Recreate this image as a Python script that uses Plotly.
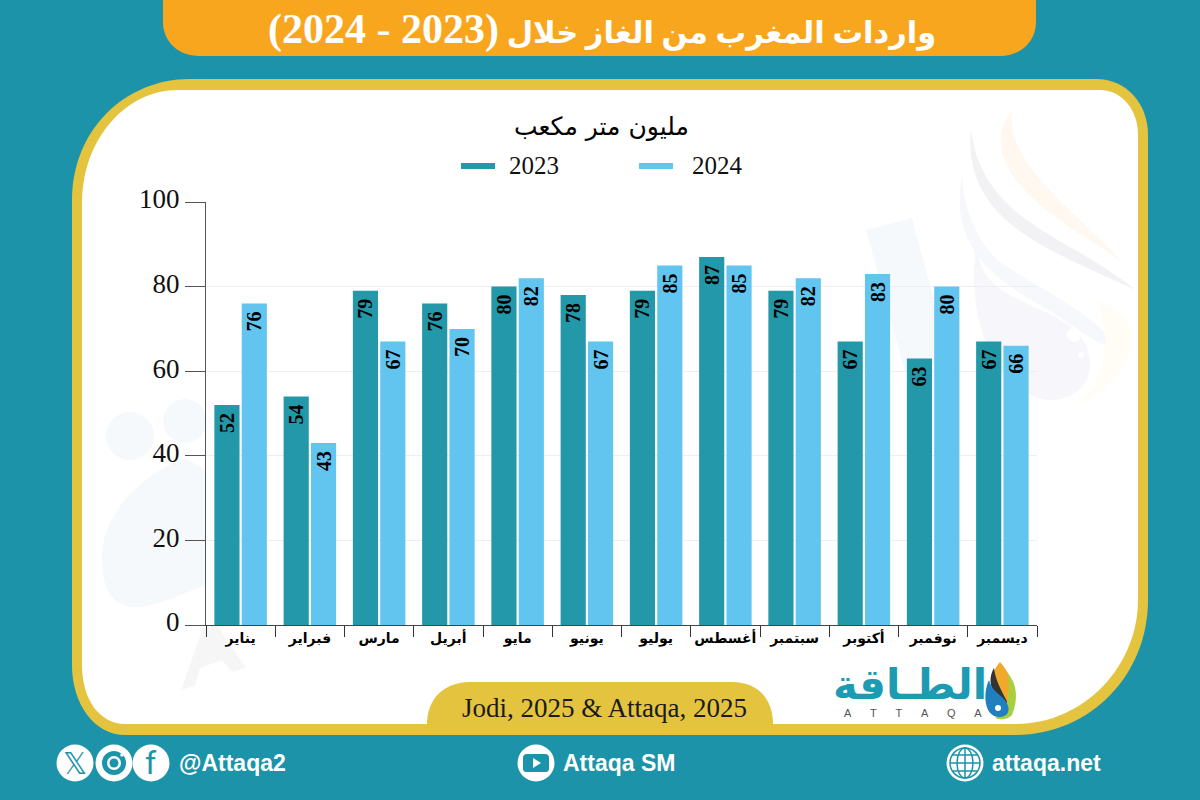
import plotly.graph_objects as go

months = ["يناير", "فبراير", "مارس", "أبريل", "مايو", "يونيو", "يوليو", "أغسطس", "سبتمبر", "أكتوبر", "نوفمبر", "ديسمبر"]
values_2023 = [52, 54, 79, 76, 80, 78, 79, 87, 79, 67, 63, 67]
values_2024 = [76, 43, 67, 70, 82, 67, 85, 85, 82, 83, 80, 66]
series_names = ["2023", "2024"]
y_ticks = [0, 20, 40, 60, 80, 100]
title_arabic = "واردات المغرب من الغاز خلال"
title_years = "(2023 - 2024)"
unit_text = "مليون متر مكعب"
source_text = "Jodi, 2025 & Attaqa, 2025"

W, H = 1200, 800
TEAL = "#1c93a9"
YELLOW = "#e4c33f"
ORANGE = "#f9a61f"
C23 = "#2398a9"
C24 = "#61c5f0"
SERIF = "Liberation Serif"
AR = "DejaVu Sans"
SANS = "Liberation Sans"


def P(d):
    out, i = [], 0
    for tok in d.split():
        if tok.isalpha():
            out.append(tok)
        else:
            v = float(tok)
            out.append(f"{v / W:.5f}" if i % 2 == 0 else f"{1 - v / H:.5f}")
            i += 1
    return " ".join(out)


shapes = []


def path(d, color, layer="below", line=None, lw=0):
    shapes.append(dict(type="path", xref="paper", yref="paper", path=P(d), fillcolor=color, layer=layer,
                       line=dict(width=lw, color=line or color)))


def circ(cx, cy, r, color, layer="below", line=None, lw=0):
    shapes.append(dict(type="circle", xref="paper", yref="paper", x0=(cx - r) / W, x1=(cx + r) / W,
                       y0=1 - (cy + r) / H, y1=1 - (cy - r) / H, fillcolor=color, layer=layer,
                       line=dict(width=lw, color=line or color)))


# Top title tab
path("M 163 0 L 1036 0 L 1036 22 C 1036 42 1020 56 1000 56 L 199 56 C 179 56 163 42 163 22 Z", ORANGE)
# Framed panel
path("M 190 79 L 1096 79 C 1126 79 1148 103 1148 135 L 1148 600 C 1148 675 1090 735 1015 735 "
     "L 125 735 C 95 735 72 705 72 665 L 72 200 C 72 130 125 79 190 79 Z", YELLOW)
path("M 178 90 L 1100 90 C 1122 90 1138 110 1138 135 L 1138 600 C 1138 665 1085 724 1015 724 "
     "L 125 724 C 100 724 82 700 82 665 L 82 203 C 82 140 125 90 178 90 Z", "#ffffff")
# Source tab
path("M 427 724 C 427 698 445 682 470 682 L 732 682 C 757 682 773 698 773 724 Z", YELLOW)

# Watermark
WM = "#f6f9fb"
path("M 971 128 C 965 190 1000 225 1060 255 C 1090 270 1115 280 1135 290 C 1100 260 1060 245 1020 215 "
     "C 990 190 975 165 971 128 Z", "#f2f2f4")
path("M 1012 110 C 990 140 1000 170 1040 205 C 1070 230 1100 245 1122 262 C 1090 225 1040 190 1020 150 "
     "C 1012 135 1010 120 1012 110 Z", "#fef8f1")
path("M 962 176 C 950 240 985 275 1040 305 C 1075 325 1100 350 1115 345 C 1090 310 1040 290 1000 262 "
     "C 975 240 965 210 962 176 Z", "#f7f8fb")
path("M 977 240 C 975 300 1040 300 1075 330 C 1100 355 1095 395 1055 400 C 1005 402 962 330 977 240 Z", "#f7f7fb")
path("M 1095 300 C 1125 310 1135 330 1132 345 C 1120 380 1095 400 1075 405 C 1105 385 1115 340 1095 300 Z", "#fffdf5")
circ(1074, 335, 7, "#ffffff")
circ(1081, 355, 3, "#ffffff")
circ(130, 436, 24, WM)
circ(185, 421, 22, WM)
path("M 102 560 C 100 510 150 470 185 458 L 205 470 L 205 585 C 170 600 140 612 125 605 C 108 600 103 585 102 560 Z", WM)
path("M 866 230 L 912 218 L 950 360 L 905 372 Z", WM)
path("M 181 690 L 203 628 L 217 625 L 246 668 L 232 672 L 222 660 L 200 668 L 195 686 Z", "#f6f6f6")

# Legend swatches
path("M 461 163 L 495 163 L 495 169 L 461 169 Z", C23)
path("M 639 163 L 673 163 L 673 169 L 639 169 Z", C24)

# Footer icons
for cx in (75, 114, 151):
    circ(cx, 763, 18.5, "#ffffff", layer="above")
circ(114, 763, 12, TEAL, layer="above")
circ(114, 763, 7, "#ffffff", layer="above")
circ(114, 763, 4.5, TEAL, layer="above")
circ(122, 755, 1.8, "#ffffff", layer="above")
circ(536, 763, 18.5, "#ffffff", layer="above")
path("M 527 754 L 545 754 C 548 754 549 756 549 758 L 549 768 C 549 771 548 772 545 772 L 527 772 "
     "C 524 772 523 771 523 768 L 523 758 C 523 756 524 754 527 754 Z", TEAL, layer="above")
path("M 533 758 L 541 763 L 533 768 Z", "#ffffff", layer="above")
circ(965, 763, 18.5, "#ffffff", layer="above")
circ(965, 763, 15, "#ffffff", layer="above", line=TEAL, lw=1.5)
shapes.append(dict(type="circle", xref="paper", yref="paper", x0=957 / W, x1=973 / W, y0=1 - 778 / H, y1=1 - 748 / H,
                   layer="above", line=dict(width=1.5, color=TEAL)))
path("M 965 748 L 965 778", "rgba(0,0,0,0)", layer="above", line=TEAL, lw=1.5)
path("M 950 763 L 980 763", "rgba(0,0,0,0)", layer="above", line=TEAL, lw=1.5)
path("M 953 755 L 977 755", "rgba(0,0,0,0)", layer="above", line=TEAL, lw=1.5)
path("M 953 771 L 977 771", "rgba(0,0,0,0)", layer="above", line=TEAL, lw=1.5)

# Logo drop
path("M 1000 662 C 985 680 990 695 1012 712 C 1018 695 1012 675 1000 662 Z", "#f0a92a", layer="above")
path("M 994 668 C 986 682 992 696 1010 708 C 1004 694 996 684 994 668 Z", "#333333", layer="above")
path("M 1007 672 C 1018 685 1018 700 1012 715 C 1008 720 1000 720 995 718 C 1008 712 1012 690 1007 672 Z", "#a9cf3f", layer="above")
path("M 989 680 C 982 695 985 718 1000 717 C 1012 716 1010 705 1003 698 C 996 692 991 688 989 680 Z", "#1f7fbf", layer="above")
circ(998, 708, 3, "#ffffff", layer="above")


def note(text, x, y, size, color="#000000", family=SERIF, bold=False, anchor="center"):
    return dict(text=f"<b>{text}</b>" if bold else text, x=x / W, y=1 - y / H, xref="paper", yref="paper",
                xanchor=anchor, yanchor="middle", showarrow=False,
                font=dict(size=size, color=color, family=family))


spaced = "\u2003\u2002\u2009".join("ATTAQA")
title_markup = ("\u202b" + title_arabic + ' <span style="font-size:42px">' + title_years + "</span>\u202c")
annotations = [
    note(title_markup, 602, 30, 30.5, "#ffffff", f"{SERIF}, {AR}", True),
    note(unit_text, 601, 127, 25, "#000000", AR),
    note(series_names[0], 507, 165, 25, "#111111", SERIF, False, "left"),
    note(series_names[1], 690, 165, 25, "#111111", SERIF, False, "left"),
    note(source_text, 604, 708, 27, "#1a1a1a"),
    note("الطـاقة", 910, 684, 42, "#1d9bb2", AR, True),
    note(spaced, 913, 713, 11, "#555555", "Liberation Sans"),
    note("@Attaqa2", 177, 763, 23, "#ffffff", SANS, True, "left"),
    note("Attaqa SM", 561, 763, 23, "#ffffff", SANS, True, "left"),
    note("attaqa.net", 990, 763, 23, "#ffffff", SANS, True, "left"),
    note("𝕏", 75, 763, 30, TEAL, "DejaVu Sans", False),
    note("f", 151, 763, 32, TEAL, "Roboto", False),
]

fig = go.Figure()
for name, vals, col in zip(series_names, (values_2023, values_2024), (C23, C24)):
    fig.add_bar(x=months, y=vals, name=name, marker=dict(color=col, line=dict(width=0)), showlegend=False,
                text=[str(v) for v in vals], textposition="inside", textangle=-90, insidetextanchor="end",
                constraintext="none",
                insidetextfont=dict(size=20, color="#000000", family=SERIF),
                texttemplate="<b>%{text}</b>\u00a0")

fig.update_layout(
    width=W, height=H, margin=dict(l=0, r=0, t=0, b=0),
    paper_bgcolor=TEAL, plot_bgcolor="rgba(0,0,0,0)", showlegend=False,
    barmode="group", bargap=0.21, bargroupgap=0.08,
    shapes=shapes, annotations=annotations,
    xaxis=dict(domain=[206 / W, 1037 / W], type="category", tickson="boundaries", ticks="outside", ticklen=11,
               automargin=False,
               tickcolor="#333333", tickwidth=1, showline=True, linecolor="#444444", linewidth=1, showgrid=False,
               tickangle=0, tickfont=dict(size=14, family=AR, color="#000000", weight="bold")),
    yaxis=dict(domain=[1 - 625 / H, 1 - 202 / H], range=[0, 100], tickvals=y_ticks, ticks="outside", ticklen=20,
               automargin=False,
               tickcolor="#555555", tickwidth=1, showline=True, linecolor="#555555", linewidth=1,
               showgrid=True, gridcolor="#eeeeee", gridwidth=1, zeroline=False, ticklabelshift=-3,
               tickfont=dict(size=27, family=SERIF, color="#111111")),
)
fig.write_html("out.html", post_script="document.body.style.margin='0';", config={"displayModeBar": False})
